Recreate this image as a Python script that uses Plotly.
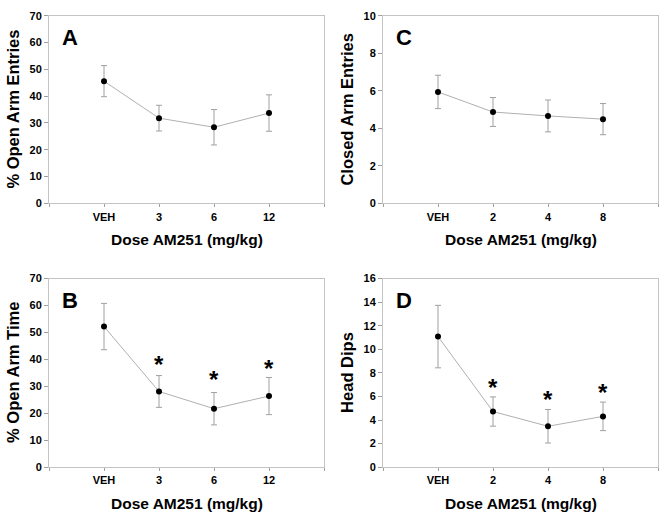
import plotly.graph_objects as go

# ---- data ----
cats_AB = ["VEH", "3", "6", "12"]
cats_CD = ["VEH", "2", "4", "8"]

A_mean = [45.6, 31.8, 28.4, 33.7]
A_err = [5.8, 4.8, 6.6, 6.8]

B_mean = [52.2, 28.1, 21.7, 26.4]
B_err = [8.6, 5.9, 6.0, 6.9]
B_star_idx = [1, 2, 3]
B_star_y = [40.1, 34.4, 38.3]

C_mean = [5.94, 4.87, 4.66, 4.49]
C_err = [0.89, 0.77, 0.85, 0.83]

D_mean = [11.08, 4.72, 3.47, 4.31]
D_err = [2.65, 1.24, 1.42, 1.21]
D_star_idx = [1, 2, 3]
D_star_y = [7.2, 6.17, 6.78]

panels = [
    dict(letter="A", cats=cats_AB, mean=A_mean, err=A_err, ymax=70, dtick=10,
         ytitle="% Open Arm Entries", stars=None),
    dict(letter="C", cats=cats_CD, mean=C_mean, err=C_err, ymax=10, dtick=2,
         ytitle="Closed Arm Entries", stars=None),
    dict(letter="B", cats=cats_AB, mean=B_mean, err=B_err, ymax=70, dtick=10,
         ytitle="% Open Arm Time", stars=(B_star_idx, B_star_y)),
    dict(letter="D", cats=cats_CD, mean=D_mean, err=D_err, ymax=16, dtick=2,
         ytitle="Head Dips", stars=(D_star_idx, D_star_y)),
]

W, H = 665, 523
# pixel boxes of plot areas (left, right, top, bottom)
boxes = [(49, 324, 10, 202), (383, 658, 10, 202),
         (49, 324, 279, 472), (383, 658, 279, 472)]

FONT = "Arial, 'Liberation Sans', sans-serif"
FRAME = "#c4c4c4"

fig = go.Figure()
layout = dict(width=W, height=H, margin=dict(l=0, r=0, t=0, b=0),
              plot_bgcolor="white", paper_bgcolor="white", showlegend=False,
              font=dict(family=FONT, color="black"))
annotations = []

for i, (p, (l, r, t, b)) in enumerate(zip(panels, boxes)):
    n = i + 1
    xa = "x" if n == 1 else f"x{n}"
    ya = "y" if n == 1 else f"y{n}"
    xs = list(range(len(p["cats"])))
    fig.add_trace(go.Scatter(
        x=xs, y=p["mean"], xaxis=xa, yaxis=ya, mode="lines+markers",
        line=dict(color="#b0b0b0", width=1),
        marker=dict(color="black", size=6),
        error_y=dict(type="data", array=p["err"], visible=True,
                     color="#a0a0a0", thickness=1, width=3),
        cliponaxis=False))
    xd = [l / W, r / W]
    yd = [1 - b / H, 1 - t / H]
    layout["xaxis" if n == 1 else f"xaxis{n}"] = dict(
        domain=xd, anchor=ya, range=[-1, 4],
        tickvals=[-1, 0, 1, 2, 3, 4], ticktext=[""] + p["cats"] + [""],
        showline=True, mirror=True, linecolor=FRAME, linewidth=1,
        ticks="outside", ticklen=3, tickcolor="#a0a0a0", showgrid=False, zeroline=False,
        tickfont=dict(family=FONT, size=11, color="black", weight="bold"))
    layout["yaxis" if n == 1 else f"yaxis{n}"] = dict(
        domain=yd, anchor=xa, range=[0, p["ymax"]], dtick=p["dtick"],
        showline=True, mirror=True, linecolor=FRAME, linewidth=1,
        ticks="outside", ticklen=4, tickcolor="#a0a0a0", showgrid=False, zeroline=False,
        tickfont=dict(family=FONT, size=11, color="black", weight="bold"))
    # axis titles
    annotations.append(dict(text="Dose AM251 (mg/kg)", xref="paper", yref="paper",
                            x=(l + r) / 2 / W, y=1 - (b + 37) / H,
                            xanchor="center", yanchor="middle", showarrow=False,
                            font=dict(family=FONT, size=15.5, color="black", weight="bold")))
    annotations.append(dict(text=p["ytitle"], xref="paper", yref="paper",
                            x=(l - 36) / W, y=1 - (t + b) / 2 / H, textangle=-90,
                            xanchor="center", yanchor="middle", showarrow=False,
                            font=dict(family=FONT, size=16.5, color="black", weight="bold")))
    annotations.append(dict(text=p["letter"], xref="paper", yref="paper",
                            x=(l + 21) / W, y=1 - (t + 22) / H,
                            xanchor="center", yanchor="middle", showarrow=False,
                            font=dict(family=FONT, size=22, color="black", weight="bold")))
    if p["stars"]:
        for idx, sy in zip(*p["stars"]):
            annotations.append(dict(text="*", xref=xa, yref=ya, x=idx, y=sy,
                                    xanchor="center", yanchor="middle", showarrow=False,
                                    yshift=-5,
                                    font=dict(family=FONT, size=24, color="black", weight="bold")))

layout["annotations"] = annotations
fig.update_layout(**layout)
fig.write_html("out.html", config={"displayModeBar": False},
               post_script="document.body.style.margin='0px';document.body.style.padding='0px';")
